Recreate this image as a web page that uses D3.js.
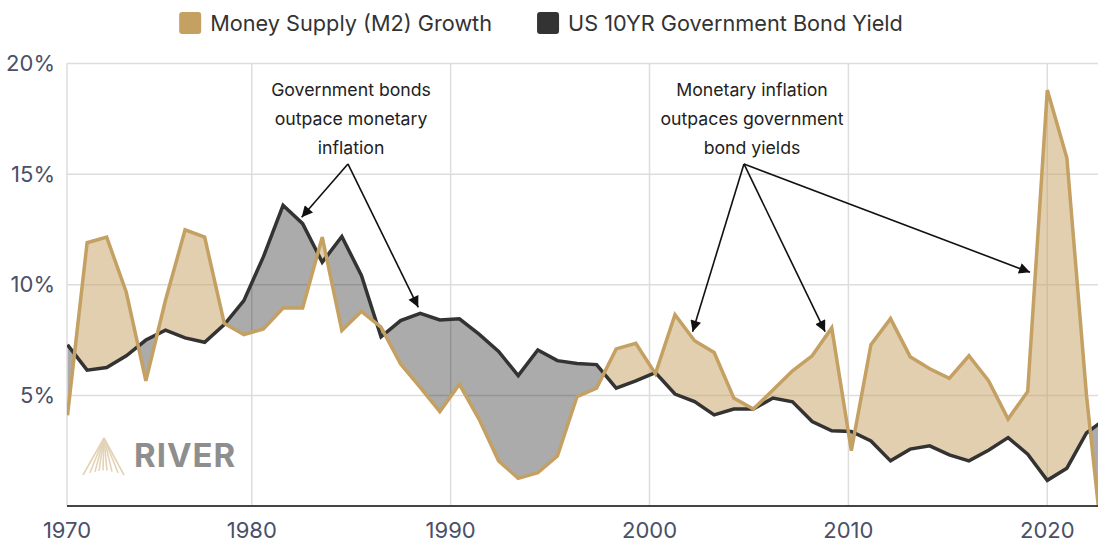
<!DOCTYPE html>
<html>
<head>
<meta charset="utf-8">
<script src="https://cdn.jsdelivr.net/npm/d3@7/dist/d3.min.js"></script>
<style>
  html, body { margin: 0; padding: 0; background: #fff; }
  svg { display: block; font-family: Inter, 'Noto Sans', sans-serif; }
</style>
</head>
<body>
<script>
'use strict'

const GOLD     = '#c4a062'
const TAN      = 'rgba(196, 160, 98, 0.5)'
const GREYFILL = 'rgba(0, 0, 0, 0.33)'
const DARK     = '#333333'
const GRID     = '#dddddd'
const LABEL    = '#4a5068'

const W = 1098, H = 545

// data
const years = [1970, 1971, 1972, 1973, 1974, 1975, 1976, 1977, 1978, 1979,
               1980, 1981, 1982, 1983, 1984, 1985, 1986, 1987, 1988, 1989,
               1990, 1991, 1992, 1993, 1994, 1995, 1996, 1997, 1998, 1999,
               2000, 2001, 2002, 2003, 2004, 2005, 2006, 2007, 2008, 2009,
               2010, 2011, 2012, 2013, 2014, 2015, 2016, 2017, 2018, 2019,
               2020, 2021, 2022, 2023]

const m2Growth = [4.1, 11.9, 12.15, 9.66, 5.66, 9.3, 12.48, 12.15, 8.25, 7.75,
                  8.0, 8.95, 8.95, 12.15, 7.93, 8.8, 8.08, 6.42, 5.36, 4.27,
                  5.5, 3.93, 2.04, 1.25, 1.51, 2.26, 4.94, 5.33, 7.1, 7.35,
                  5.98, 8.65, 7.47, 6.94, 4.88, 4.38, 5.24, 6.11, 6.79, 8.05,
                  2.5, 7.29, 8.47, 6.75, 6.2, 5.77, 6.79, 5.66, 3.93, 5.18,
                  18.8, 15.73, 5.0, -3.3]

const bondYield = [7.29, 6.14, 6.26, 6.79, 7.5, 7.95, 7.6, 7.4, 8.2, 9.28,
                   11.27, 13.59, 12.76, 11.02, 12.18, 10.42, 7.65, 8.38, 8.71, 8.41,
                   8.46, 7.77, 6.99, 5.89, 7.05, 6.57, 6.44, 6.39, 5.33, 5.66,
                   6.03, 5.06, 4.72, 4.12, 4.38, 4.38, 4.88, 4.71, 3.82, 3.4,
                   3.37, 2.94, 2.04, 2.57, 2.72, 2.31, 2.04, 2.52, 3.09, 2.34,
                   1.16, 1.71, 3.3, 3.96]

const yTicks = [5, 10, 15, 20]
const xTicks = [1970, 1980, 1990, 2000, 2010, 2020]

const seriesNames = ['Money Supply (M2) Growth', 'US 10YR Government Bond Yield']

const notes = [
  { lines: ['Government bonds', 'outpace monetary', 'inflation'],
    at: { year: 1984.47 }, from: { year: 1984.31, value: 15.46 },
    to: [{ year: 1981.95, value: 13.05 }, { year: 1987.9, value: 8.98 }] },
  { lines: ['Monetary inflation', 'outpaces government', 'bond yields'],
    at: { year: 2004.93 }, from: { year: 2004.52, value: 15.46 },
    to: [{ year: 2001.9, value: 7.88 }, { year: 2008.66, value: 7.88 }, { year: 2019.12, value: 10.56 }] }
]

const rows = years.map((year, i) => ({ year, m2: m2Growth[i], bond: bondYield[i] }))

// layout
const plot = { left: 67, right: W, top: 63.5, bottom: 506 }

const x = d3.scaleLinear().domain([1970, 2020]).range([67.5, 1047.3])
// the axis grid runs on its own calendar scale, first label pinned to the edge
const xGrid = d3.scaleLinear().domain([1970.71, 2022.55]).range([plot.left, plot.right]).clamp(true)
const y = d3.scaleLinear().domain([0, 20]).range([plot.bottom, plot.top])

const svg = d3.select('body')
  .append('svg')
  .attr('width', W)
  .attr('height', H)

const defs = svg.append('defs')

defs.append('clipPath').attr('id', 'plot-clip')
  .append('rect')
  .attr('x', plot.left).attr('y', plot.top - 2)
  .attr('width', plot.right - plot.left).attr('height', plot.bottom - plot.top + 2)

defs.append('clipPath').attr('id', 'above-bond')
  .append('path')
  .attr('d', d3.area().x(d => x(d.year)).y0(0).y1(d => y(d.bond))(rows))

defs.append('clipPath').attr('id', 'below-bond')
  .append('path')
  .attr('d', d3.area().x(d => x(d.year)).y0(H).y1(d => y(d.bond))(rows))

defs.append('marker')
  .attr('id', 'arrow')
  .attr('viewBox', '0 0 10 10')
  .attr('refX', 10).attr('refY', 5)
  .attr('markerWidth', 13).attr('markerHeight', 11)
  .attr('markerUnits', 'userSpaceOnUse')
  .attr('orient', 'auto')
  .append('path')
  .attr('d', 'M0,0 L10,5 L0,10 z')
  .attr('fill', '#111')

// grid
const grid = svg.append('g')
grid.selectAll('.hgrid')
  .data(yTicks)
  .join('line')
  .attr('x1', plot.left).attr('x2', plot.right)
  .attr('y1', d => y(d)).attr('y2', d => y(d))
  .attr('stroke', GRID).attr('stroke-width', 1.5)

grid.selectAll('.vgrid')
  .data(xTicks)
  .join('line')
  .attr('x1', d => xGrid(d)).attr('x2', d => xGrid(d))
  .attr('y1', plot.top).attr('y2', plot.bottom)
  .attr('stroke', GRID).attr('stroke-width', 1.5)

// watermark
const logo = svg.append('g')
const apex = [104, 438]
const feet = [83, 90, 95, 99, 103, 107, 112, 118, 124]
logo.selectAll('line')
  .data(feet)
  .join('line')
  .attr('x1', apex[0]).attr('y1', apex[1])
  .attr('x2', d => d).attr('y2', (d, i) => i === 0 || i === feet.length - 1 ? 475 : 470 + Math.abs(d - 104) * 0.2)
  .attr('stroke', '#e3d3b6').attr('stroke-width', 1.6)
logo.append('text')
  .attr('x', 134).attr('y', 467)
  .attr('font-size', 33).attr('font-weight', 700)
  .attr('letter-spacing', 1)
  .attr('fill', '#8e8e8e')
  .text('RIVER')

// fills + lines
const chart = svg.append('g').attr('clip-path', 'url(#plot-clip)')

const band = d3.area()
  .x(d => x(d.year))
  .y0(d => y(d.bond))
  .y1(d => y(d.m2))

chart.append('path')
  .attr('d', band(rows))
  .attr('fill', TAN)
  .attr('clip-path', 'url(#above-bond)')

chart.append('path')
  .attr('d', band(rows))
  .attr('fill', GREYFILL)
  .attr('clip-path', 'url(#below-bond)')

chart.append('path')
  .attr('d', d3.line().x(d => x(d.year)).y(d => y(d.bond))(rows))
  .attr('fill', 'none')
  .attr('stroke', DARK).attr('stroke-width', 3.5)
  .attr('stroke-linejoin', 'miter')

chart.append('path')
  .attr('d', d3.line().x(d => x(d.year)).y(d => y(d.m2))(rows))
  .attr('fill', 'none')
  .attr('stroke', GOLD).attr('stroke-width', 3.5)
  .attr('stroke-linejoin', 'miter')

// axes
svg.append('line')
  .attr('x1', plot.left).attr('x2', plot.right)
  .attr('y1', plot.bottom).attr('y2', plot.bottom)
  .attr('stroke', '#444').attr('stroke-width', 2)

svg.append('g')
  .selectAll('text')
  .data(yTicks)
  .join('text')
  .attr('x', 55).attr('y', d => y(d))
  .attr('dy', '0.35em')
  .attr('text-anchor', 'end')
  .attr('font-size', 22)
  .attr('fill', LABEL)
  .text(d => d + '%')

svg.append('g')
  .selectAll('text')
  .data(xTicks)
  .join('text')
  .attr('x', d => xGrid(d)).attr('y', 538)
  .attr('text-anchor', 'middle')
  .attr('font-size', 22)
  .attr('fill', LABEL)
  .text(d => d)

// annotations
notes.forEach(n => {
  const g = svg.append('g')
  g.selectAll('text')
    .data(n.lines)
    .join('text')
    .attr('x', x(n.at.year))
    .attr('y', (d, i) => 96 + i * 29)
    .attr('text-anchor', 'middle')
    .attr('font-size', 17.7)
    .attr('fill', '#222')
    .text(d => d)

  g.selectAll('line')
    .data(n.to)
    .join('line')
    .attr('x1', x(n.from.year)).attr('y1', y(n.from.value))
    .attr('x2', d => x(d.year)).attr('y2', d => y(d.value))
    .attr('stroke', '#111').attr('stroke-width', 1.6)
    .attr('marker-end', 'url(#arrow)')
})

// legend
const legend = svg.append('g')
const swatches = [GOLD, DARK]
let cursor = 0
seriesNames.forEach((name, i) => {
  const item = legend.append('g').attr('transform', `translate(${cursor}, 0)`)
  item.append('rect')
    .attr('x', 0).attr('y', 12)
    .attr('width', 22).attr('height', 22)
    .attr('rx', 3)
    .attr('fill', swatches[i])
  const t = item.append('text')
    .attr('x', 31).attr('y', 31)
    .attr('font-size', 21.7)
    .attr('fill', '#333')
    .text(name)
  cursor += 31 + t.node().getComputedTextLength() + 45
})
const legendWidth = cursor - 45
legend.attr('transform', `translate(${541 - legendWidth / 2}, 0)`)
</script>
</body>
</html>
